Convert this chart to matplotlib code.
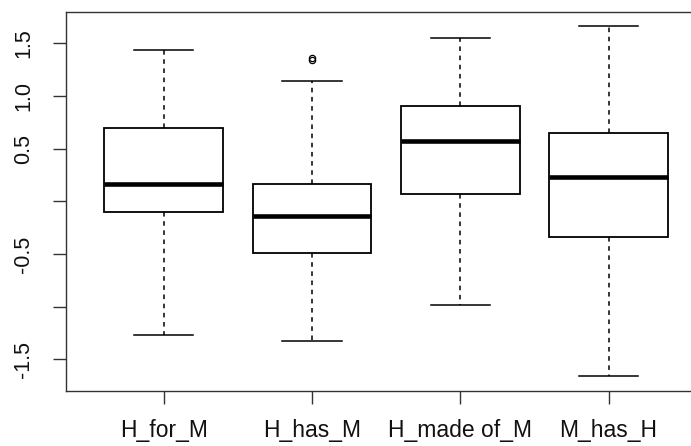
import matplotlib
matplotlib.use("Agg")
import matplotlib.pyplot as plt

plt.rcParams['font.family'] = ['Liberation Sans', 'DejaVu Sans']

# five-number summaries
groups = ['H_for_M', 'H_has_M', 'H_made of_M', 'M_has_H']
whis_lo = [-1.266, -1.325, -0.987, -1.657]
q1 = [-0.099, -0.488, 0.072, -0.336]
medians = [0.167, -0.139, 0.572, 0.228]
q3 = [0.698, 0.167, 0.904, 0.651]
whis_hi = [1.435, 1.141, 1.546, 1.663]
outliers = [[], [1.338, 1.360], [], []]

yticks = [-1.5, -1.0, -0.5, 0.0, 0.5, 1.0, 1.5]
ytick_labels = ['-1.5', '', '-0.5', '', '0.5', '1.0', '1.5']

stats = []
for i, name in enumerate(groups):
    stats.append(dict(label=name, whislo=whis_lo[i], q1=q1[i], med=medians[i],
                      q3=q3[i], whishi=whis_hi[i], fliers=outliers[i]))

fig = plt.figure(figsize=(6.91, 4.46), dpi=100)
ax = fig.add_axes([65.7 / 691, 0.124, 640.7 / 691, 0.849])

ax.bxp(stats, positions=[1, 2, 3, 4], widths=0.8, capwidths=0.4,
       patch_artist=True, showfliers=True,
       boxprops=dict(facecolor='white', edgecolor='black', linewidth=1.3),
       medianprops=dict(color='black', linewidth=3.3, solid_capstyle='butt'),
       whiskerprops=dict(color='black', linewidth=1.1, linestyle=(0, (3, 3))),
       capprops=dict(color='black', linewidth=1.1),
       flierprops=dict(marker='o', markerfacecolor='none', markeredgecolor='black',
                       markersize=4.5, markeredgewidth=0.9))

ax.set_xlim(0.34, 4.66)
ax.set_ylim(-1.797, 1.796)
ax.set_xticks([1, 2, 3, 4])
ax.set_xticklabels(groups)
ax.set_yticks(yticks)
ax.set_yticklabels(ytick_labels)
plt.setp(ax.get_yticklabels(), rotation=90, va='center')

ax.tick_params(axis='both', length=9.5, width=1.0, color='#333333',
               labelcolor='#111111')
ax.tick_params(axis='x', pad=11, labelsize=16.5)
ax.tick_params(axis='y', pad=13, labelsize=15.5)
for sp in ax.spines.values():
    sp.set_color('#333333')
    sp.set_linewidth(1.0)

fig.savefig('out.png', dpi=100)
